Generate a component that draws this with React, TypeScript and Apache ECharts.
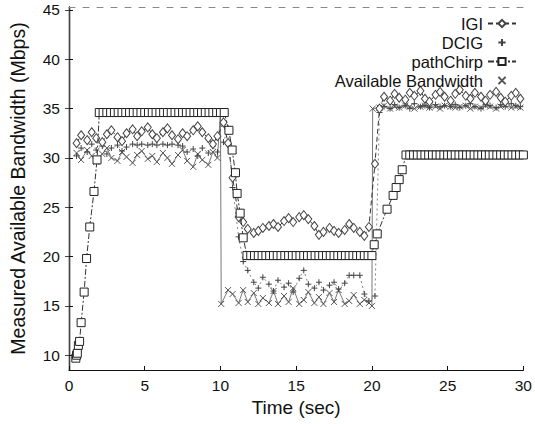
import React, { useEffect, useRef } from "react";
import * as echarts from "echarts";

// Sample times (sec) shared by IGI and DCIG
const TIME = [
  0.5, 0.8, 1.2, 1.5, 1.8, 2.2, 2.5, 2.8, 3.2, 3.5, 3.8, 4.2, 4.5, 4.8, 5.2, 5.5, 5.8, 6.2, 6.5, 6.8,
  7.2, 7.5, 7.8, 8.2, 8.5, 8.8, 9.2, 9.5, 9.8, 10.2,
  10.5, 10.8, 11.2, 11.5,
  11.8, 12.2, 12.5, 12.8, 13.2, 13.5, 13.8, 14.2, 14.5, 14.8, 15.2, 15.5, 15.8, 16.2, 16.5, 16.8,
  17.2, 17.5, 17.8, 18.2, 18.5, 18.8, 19.2, 19.5, 19.8, 20.2,
  20.5, 20.8, 21.2, 21.5, 21.8, 22.2, 22.5, 22.8, 23.2, 23.5, 23.8, 24.2, 24.5, 24.8, 25.2, 25.5,
  25.8, 26.2, 26.5, 26.8, 27.2, 27.5, 27.8, 28.2, 28.5, 28.8, 29.2, 29.5, 29.8,
];

const IGI = [
  31.5, 32.3, 31.8, 32.6, 32.0, 31.6, 32.4, 32.8, 32.1, 31.7, 32.5, 32.9, 32.2, 32.7, 33.1, 32.4, 32.0, 32.6, 33.0, 32.3,
  31.9, 32.5, 32.2, 32.8, 33.2, 32.6, 32.0, 31.4, 32.2, 33.6,
  31.5, 28.0, 24.0, 23.5,
  22.8, 22.4, 22.6, 22.9, 23.1, 23.3, 23.0, 23.6, 23.9, 23.5, 24.0, 24.2, 23.8, 23.1, 22.2, 22.5,
  22.9, 22.6, 22.4, 22.7, 23.3, 22.9, 22.5, 22.1, 23.0, 29.4,
  35.0, 36.2, 35.8, 36.5, 36.1, 35.9, 36.6, 36.3, 36.8, 36.0, 35.7, 36.4, 36.7, 36.2, 35.8, 36.5,
  36.9, 36.3, 36.0, 36.6, 36.2, 35.8, 36.4, 36.7, 36.1, 35.7, 36.3, 36.6, 36.0,
];

const DCIG = [
  30.2, 31.0, 30.6, 31.4, 30.8, 31.2, 30.4, 31.0, 31.3, 30.7, 31.1, 31.4, 31.3, 31.4, 31.3, 31.4, 31.3, 31.4, 31.3, 31.4,
  31.3, 31.2, 30.6, 30.9, 30.2, 31.0, 30.5, 31.2, 30.6, 31.6,
  33.0, 27.0, 22.0, 19.5,
  18.6, 17.4, 16.8, 17.9, 17.2, 16.5, 17.6, 16.9, 17.3, 16.4, 17.8, 18.6, 17.2, 16.8, 17.4, 16.6,
  17.1, 17.4, 16.7, 17.3, 18.1, 18.1, 18.1, 16.2, 15.5, 16.0,
  34.6, 35.2, 35.0, 35.4, 35.1, 35.3, 35.0, 35.5, 35.2, 35.3, 35.1, 35.4, 35.2, 35.3, 35.2, 35.4,
  35.1, 35.3, 35.5, 35.2, 35.0, 35.4, 35.3, 35.1, 35.4, 35.2, 35.5, 35.3, 35.2,
];

const PC_TIME = [
  0.45, 0.5, 0.55, 0.62, 0.7, 0.8, 1.0, 1.16, 1.37, 1.65, 1.85,
  2.0, 2.25, 2.5, 2.75, 3.0, 3.25, 3.5, 3.75, 4.0, 4.25, 4.5, 4.75, 5.0, 5.25, 5.5, 5.75, 6.0,
  6.25, 6.5, 6.75, 7.0, 7.25, 7.5, 7.75, 8.0, 8.25, 8.5, 8.75, 9.0, 9.25, 9.5, 9.75, 10.0, 10.25,
  10.56, 10.77, 10.99, 11.1, 11.3, 11.5,
  11.75, 12.0, 12.25, 12.5, 12.75, 13.0, 13.25, 13.5, 13.75, 14.0, 14.25, 14.5, 14.75, 15.0, 15.25,
  15.5, 15.75, 16.0, 16.25, 16.5, 16.75, 17.0, 17.25, 17.5, 17.75, 18.0, 18.25, 18.5, 18.75, 19.0,
  19.25, 19.5, 19.75, 20.0,
  20.15, 20.35, 21.0, 21.4, 21.6, 21.8, 22.0,
  22.25, 22.5, 22.75, 23.0, 23.25, 23.5, 23.75, 24.0, 24.25, 24.5, 24.75, 25.0, 25.25, 25.5, 25.75,
  26.0, 26.25, 26.5, 26.75, 27.0, 27.25, 27.5, 27.75, 28.0, 28.25, 28.5, 28.75, 29.0, 29.25, 29.5,
  29.75, 30.0,
];

const PATHCHIRP = [
  9.7, 10.0, 10.2, 11.0, 11.4, 13.3, 16.4, 19.8, 23.0, 26.6, 29.8,
  34.6, 34.6, 34.6, 34.6, 34.6, 34.6, 34.6, 34.6, 34.6, 34.6, 34.6, 34.6, 34.6, 34.6, 34.6, 34.6, 34.6,
  34.6, 34.6, 34.6, 34.6, 34.6, 34.6, 34.6, 34.6, 34.6, 34.6, 34.6, 34.6, 34.6, 34.6, 34.6, 34.6, 34.6,
  32.8, 30.8, 28.5, 26.4, 24.4, 21.9,
  20.1, 20.1, 20.1, 20.1, 20.1, 20.1, 20.1, 20.1, 20.1, 20.1, 20.1, 20.1, 20.1, 20.1, 20.1,
  20.1, 20.1, 20.1, 20.1, 20.1, 20.1, 20.1, 20.1, 20.1, 20.1, 20.1, 20.1, 20.1, 20.1, 20.1,
  20.1, 20.1, 20.1, 20.1,
  21.2, 22.3, 24.8, 26.2, 27.0, 27.8, 28.8,
  30.3, 30.3, 30.3, 30.3, 30.3, 30.3, 30.3, 30.3, 30.3, 30.3, 30.3, 30.3, 30.3, 30.3, 30.3,
  30.3, 30.3, 30.3, 30.3, 30.3, 30.3, 30.3, 30.3, 30.3, 30.3, 30.3, 30.3, 30.3, 30.3, 30.3,
  30.3, 30.3,
];

const AB_TIME = [
  0.5, 0.8, 1.2, 1.5, 1.8, 2.2, 2.5, 2.8, 3.2, 3.5, 3.8, 4.2, 4.5, 4.8, 5.2, 5.5, 5.8, 6.2, 6.5, 6.8,
  7.2, 7.5, 7.8, 8.2, 8.5, 8.8, 9.2, 9.5, 9.8,
  10.0, 10.05,
  10.5, 10.8, 11.2, 11.5, 11.8, 12.2, 12.5, 12.8, 13.2, 13.5, 13.8, 14.2, 14.5, 14.8, 15.2, 15.5,
  15.8, 16.2, 16.5, 16.8, 17.2, 17.5, 17.8, 18.2, 18.5, 18.8, 19.2, 19.5, 19.8,
  20.0, 20.05,
  20.5, 20.8, 21.2, 21.5, 21.8, 22.2, 22.5, 22.8, 23.2, 23.5, 23.8, 24.2, 24.5, 24.8, 25.2, 25.5,
  25.8, 26.2, 26.5, 26.8, 27.2, 27.5, 27.8, 28.2, 28.5, 28.8, 29.2, 29.5, 29.8,
];

const AVAILABLE = [
  30.5, 29.8, 30.8, 30.2, 29.6, 30.4, 31.0, 30.0, 29.7, 30.6, 30.1, 29.5, 30.3, 30.7, 29.9, 30.2, 29.6, 30.5, 30.0, 29.4,
  30.3, 30.8, 29.7, 29.1, 30.4, 29.8, 29.3, 30.6, 30.0,
  34.6, 15.2,
  16.6, 16.2, 15.3, 16.6, 15.4, 16.3, 15.2, 15.8, 15.3, 16.5, 15.2, 16.0, 15.4, 16.8, 15.2, 15.6,
  16.4, 15.3, 15.9, 15.2, 16.3, 15.4, 16.6, 15.2, 15.5, 16.1, 15.2, 15.6, 15.3,
  15.0, 35.0,
  35.1, 35.3, 35.0, 35.2, 35.1, 35.3, 35.2, 35.0, 35.2, 35.3, 35.1, 35.2, 35.0, 35.3, 35.2, 35.1,
  35.2, 35.3, 35.0, 35.2, 35.1, 35.3, 35.2, 35.0, 35.2, 35.3, 35.1, 35.2, 35.1,
];

const X_TICKS = [0, 5, 10, 15, 20, 25, 30];
const Y_TICKS = [10, 15, 20, 25, 30, 35, 40, 45];

const FONT = "Liberation Sans, Arial, Helvetica, sans-serif";
const PLUS = "path://M5,0L5,10M0,5L10,5";
const CROSS = "path://M0,0L10,10M10,0L0,10";

function pairs(xs: number[], ys: number[]) {
  return xs.map((x, i) => [x, ys[i]]);
}

export default function App() {
  const ref = useRef<HTMLDivElement>(null);

  useEffect(() => {
    if (!ref.current) return;
    const chart = echarts.init(ref.current, null, { renderer: "svg" });
    const option: any = {
      animation: false,
      backgroundColor: "#ffffff",
      textStyle: { fontFamily: FONT },
      grid: { left: 60, right: 9, top: 7, bottom: 54 },
      legend: {
        orient: "vertical",
        right: 13,
        top: 10,
        align: "right",
        itemWidth: 28,
        itemHeight: 9,
        itemGap: 2,
        textStyle: { fontSize: 16.5, color: "#111", fontFamily: FONT },
        data: [
          "IGI",
          { name: "DCIG", lineStyle: { opacity: 0 } },
          "pathChirp",
          { name: "Available Bandwidth", lineStyle: { opacity: 0 } },
        ],
      },
      xAxis: [
        {
          type: "value",
          min: 0,
          max: 30,
          interval: 5,
          name: "Time (sec)",
          nameLocation: "middle",
          nameGap: 27,
          nameTextStyle: { fontSize: 19, color: "#111", fontFamily: FONT },
          axisLine: { lineStyle: { color: "#111", width: 1.2 } },
          axisTick: { inside: true, length: 4, lineStyle: { color: "#111" } },
          axisLabel: { fontSize: 15.5, color: "#111", margin: 7, fontFamily: FONT, customValues: X_TICKS },
          splitLine: { show: false },
        },
        {
          type: "value",
          position: "top",
          min: 0,
          max: 30,
          axisLine: { show: true, lineStyle: { color: "#888", type: [6, 8], width: 1 } },
          axisTick: { show: false },
          axisLabel: { show: false },
          splitLine: { show: false },
        },
      ],
      yAxis: [
        {
          type: "value",
          min: 8.5,
          max: 45.3,
          name: "Measured Available Bandwidth (Mbps)",
          nameLocation: "middle",
          nameGap: 41,
          nameTextStyle: { fontSize: 19.5, color: "#111", fontFamily: FONT },
          axisLine: { show: true, lineStyle: { color: "#111", width: 1.4 } },
          axisTick: { inside: true, length: 4, lineStyle: { color: "#111" }, customValues: Y_TICKS },
          axisLabel: { fontSize: 15.5, color: "#111", margin: 9, fontFamily: FONT, customValues: Y_TICKS },
          splitLine: { show: false },
        },
        {
          type: "value",
          position: "right",
          min: 8.5,
          max: 45.3,
          axisLine: { show: true, lineStyle: { color: "#444", width: 1.2 } },
          axisTick: { show: true, inside: true, length: 4, lineStyle: { color: "#444" }, customValues: Y_TICKS },
          axisLabel: { show: false },
          splitLine: { show: false },
        },
      ],
      series: [
        {
          name: "IGI",
          type: "line",
          data: pairs(TIME, IGI),
          symbol: "diamond",
          symbolSize: [7, 9],
          lineStyle: { color: "#333", width: 1, type: [5, 3] },
          itemStyle: { color: "#ffffff", borderColor: "#444", borderWidth: 1 },
          z: 3,
        },
        {
          name: "DCIG",
          type: "line",
          data: pairs(TIME, DCIG),
          symbol: PLUS,
          symbolSize: 6,
          lineStyle: { color: "#666", width: 0.8, type: [2, 3] },
          itemStyle: { color: "none", borderColor: "#444", borderWidth: 1 },
          z: 2,
        },
        {
          name: "pathChirp",
          type: "line",
          data: pairs(PC_TIME, PATHCHIRP),
          symbol: "rect",
          symbolSize: 8,
          lineStyle: { color: "#333", width: 1, type: [6, 2, 2, 2] },
          itemStyle: { color: "#ffffff", borderColor: "#222", borderWidth: 1 },
          z: 4,
        },
        {
          name: "Available Bandwidth",
          type: "line",
          data: pairs(AB_TIME, AVAILABLE),
          symbol: CROSS,
          symbolSize: 6,
          lineStyle: { color: "#555", width: 0.8 },
          itemStyle: { color: "none", borderColor: "#555", borderWidth: 1 },
          z: 1,
        },
      ],
    };
    chart.setOption(option);
    return () => chart.dispose();
  }, []);

  return (
    <div
      ref={ref}
      style={{ position: "absolute", left: 0, top: 0, width: 535, height: 424 }}
    />
  );
}
